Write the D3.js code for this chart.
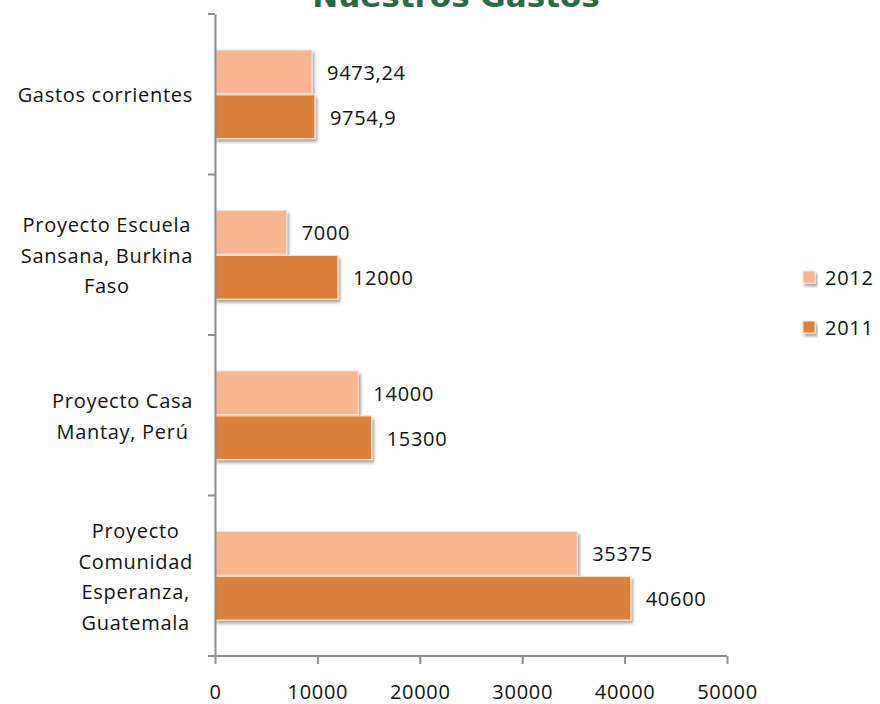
<!DOCTYPE html>
<html>
<head>
<meta charset="utf-8">
<script src="https://cdn.jsdelivr.net/npm/d3@7"></script>
<style>
  body { margin: 0; background: #fff; }
  svg { display: block; font-family: "Open Sans", "DejaVu Sans", sans-serif; }
  .axis path, .axis line { stroke: #8c8c8c; stroke-width: 2; }
  .lbl { font-size: 20px; letter-spacing: 0.7px; fill: #111; }
</style>
</head>
<body>
<div id="chart"></div>
<script>
// chart data
var categories = ["Gastos corrientes", "Proyecto Escuela Sansana, Burkina Faso", "Proyecto Casa Mantay, Perú", "Proyecto Comunidad Esperanza, Guatemala"];
var categoryLines = [["Gastos corrientes"], ["Proyecto Escuela", "Sansana, Burkina", "Faso"], ["Proyecto Casa", "Mantay, Perú"], ["Proyecto", "Comunidad", "Esperanza,", "Guatemala"]];
var seriesNames = ["2012", "2011"];
var values2012 = [9473.24, 7000, 14000, 35375];
var values2011 = [9754.9, 12000, 15300, 40600];
var xTicks = [0, 10000, 20000, 30000, 40000, 50000];
var colors = {"2012": "#f8b592", "2011": "#da823e"};

var width = 880, height = 704;
var mLeft = 215, mRight = 727, mTop = 14, mBottom = 656;

var svg = d3.select("#chart").append("svg")
    .attr("width", width)
    .attr("height", height);

// soft shadow like the spreadsheet bars
var defs = svg.append("defs");
var f = defs.append("filter").attr("id", "shadow")
    .attr("x", "-10%").attr("y", "-20%").attr("width", "130%").attr("height", "160%");
f.append("feDropShadow").attr("dx", 2).attr("dy", 3)
    .attr("stdDeviation", 1.5).attr("flood-color", "#000").attr("flood-opacity", 0.35);

var x = d3.scaleLinear().domain([0, 50000]).range([mLeft, mRight]);

var y = d3.scaleBand().domain(categories).range([mTop, mBottom]);
var ySub = d3.scaleBand().domain(seriesNames)
    .range([0, y.bandwidth()])
    .paddingInner(0.03)
    .paddingOuter(0.8);

var rows = categories.map(function(c, i) {
  return {cat: c, lines: categoryLines[i], "2012": values2012[i], "2011": values2011[i]};
});

function fmt(v) { return String(v).replace(".", ","); }

// title (cut by the top edge, like the original)
svg.append("text")
    .attr("x", 456)
    .attr("y", 7)
    .attr("text-anchor", "middle")
    .style("font-family", "DejaVu Sans, sans-serif")
    .style("font-size", "31px")
    .style("font-weight", "bold")
    .style("fill", "#2b6a43")
    .text("Nuestros Gastos");

// bars
var groups = svg.selectAll("g.cat")
    .data(rows)
  .enter().append("g")
    .attr("class", "cat")
    .attr("transform", function(d) { return "translate(0," + y(d.cat) + ")"; });

groups.selectAll("rect")
    .data(function(d) { return seriesNames.map(function(s) { return {s: s, v: d[s]}; }); })
  .enter().append("rect")
    .attr("x", x(0))
    .attr("y", function(d) { return ySub(d.s); })
    .attr("width", function(d) { return x(d.v) - x(0); })
    .attr("height", ySub.bandwidth())
    .attr("fill", function(d) { return colors[d.s]; })
    .attr("stroke", "#fbe3d5")
    .attr("stroke-width", 1)
    .attr("filter", "url(#shadow)");

groups.selectAll("text.val")
    .data(function(d) { return seriesNames.map(function(s) { return {s: s, v: d[s]}; }); })
  .enter().append("text")
    .attr("class", "val lbl")
    .attr("x", function(d) { return x(d.v) + 15; })
    .attr("y", function(d) { return ySub(d.s) + ySub.bandwidth() / 2 + 8; })
    .text(function(d) { return fmt(d.v); });

// y axis
var yAxis = d3.axisLeft(y).tickValues([]).tickSizeOuter(0);
var gy = svg.append("g").attr("class", "axis")
    .attr("transform", "translate(" + mLeft + ",0)")
    .call(yAxis);
// boundary ticks between categories
var bounds = categories.map(function(c) { return y(c); }).concat([mBottom]);
gy.selectAll("line.bound")
    .data(bounds)
  .enter().append("line")
    .attr("class", "bound")
    .attr("x1", -7).attr("x2", 0)
    .attr("y1", function(d) { return d; })
    .attr("y2", function(d) { return d; });

// category labels, block right-aligned, lines centred
rows.forEach(function(d) {
  var n = d.lines.length, lh = 30.5;
  var cy = y(d.cat) + y.bandwidth() / 2 + 1;
  var t = svg.append("text")
      .attr("class", "lbl")
      .attr("text-anchor", "middle");
  var spans = d.lines.map(function(l, k) {
    return t.append("tspan").attr("y", cy + (k - (n - 1) / 2) * lh + 7).text(l);
  });
  var maxW = d3.max(spans, function(s) { return s.node().getComputedTextLength(); });
  spans.forEach(function(s) { s.attr("x", 193 - maxW / 2); });
});

// x axis
var gx = svg.append("g").attr("class", "axis")
    .attr("transform", "translate(0," + mBottom + ")")
    .call(d3.axisBottom(x).tickValues(xTicks).tickSize(8).tickSizeOuter(8).tickFormat(d3.format("d")).tickPadding(21));
gx.select(".domain").attr("d", "M" + (mLeft - 7) + ",0H" + mRight);
gx.selectAll("text").attr("class", "lbl").attr("fill", null)
    .style("font-family", "Open Sans, sans-serif");

// legend
var legend = svg.selectAll("g.leg")
    .data(seriesNames)
  .enter().append("g")
    .attr("class", "leg")
    .attr("transform", function(d, i) { return "translate(803," + (271 + i * 50) + ")"; });
legend.append("rect")
    .attr("width", 12).attr("height", 12)
    .attr("fill", function(d) { return colors[d]; })
    .attr("stroke", "#fbe3d5")
    .attr("filter", "url(#shadow)");
legend.append("text")
    .attr("class", "lbl")
    .attr("x", 22).attr("y", 14)
    .text(function(d) { return d; });
</script>
</body>
</html>
